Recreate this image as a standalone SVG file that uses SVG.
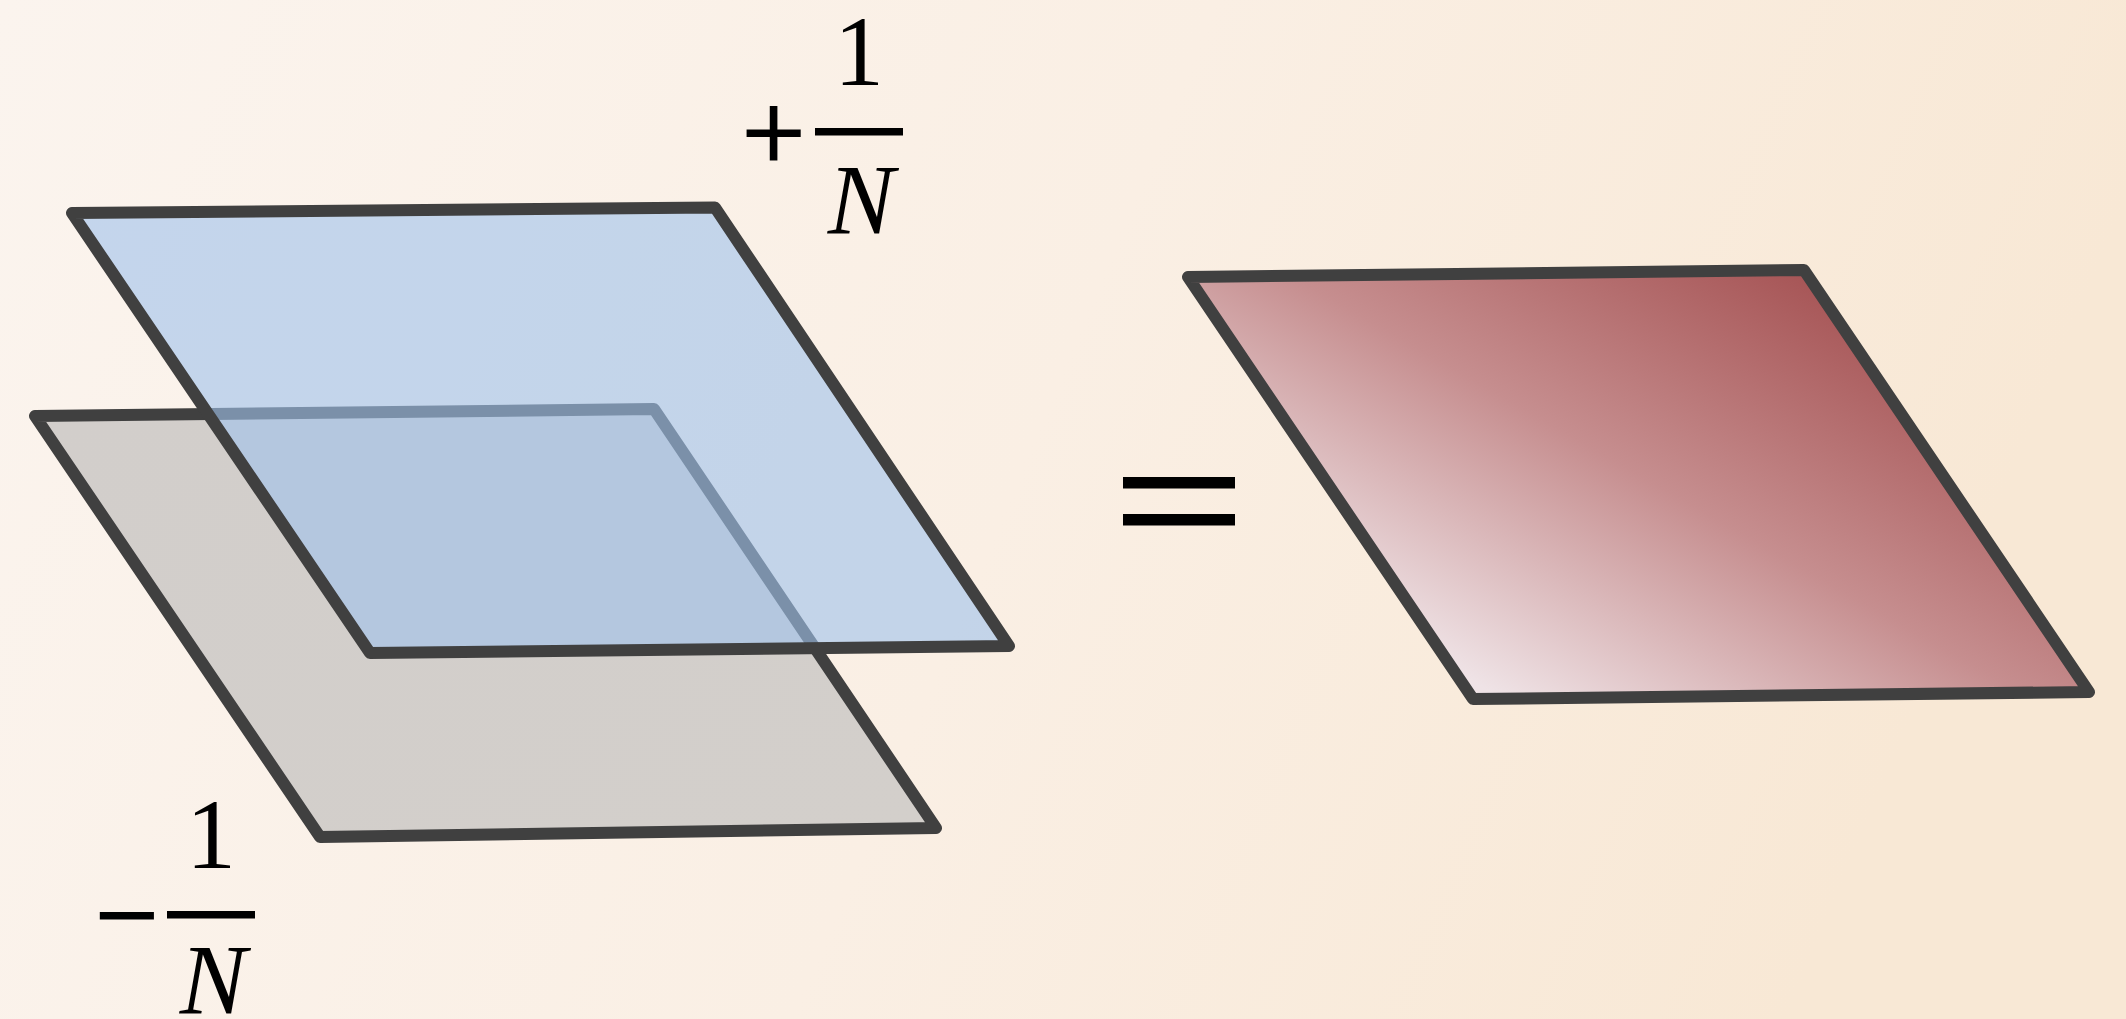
<svg xmlns="http://www.w3.org/2000/svg" width="2126" height="1019" viewBox="0 0 2126 1019">
  <defs>
    <linearGradient id="bg" x1="0" y1="0" x2="1" y2="0.2">
      <stop offset="0" stop-color="#fbf4ee"/>
      <stop offset="0.55" stop-color="#faefe4"/>
      <stop offset="1" stop-color="#f8e8d5"/>
    </linearGradient>
    <linearGradient id="grayFill" x1="0" y1="0" x2="1" y2="1">
      <stop offset="0" stop-color="#d2cecb"/>
      <stop offset="1" stop-color="#d3cfcb"/>
    </linearGradient>
    <linearGradient id="redFill" gradientUnits="userSpaceOnUse" x1="1800" y1="265" x2="1540" y2="720">
      <stop offset="0" stop-color="#a65455"/>
      <stop offset="0.5" stop-color="#c68e8f"/>
      <stop offset="1" stop-color="#efe3e6"/>
    </linearGradient>
    <style>
      .plane { stroke: #404040; stroke-width: 12; stroke-linejoin: round; }
      .math { font-family: "Liberation Serif", "Times New Roman", serif; fill: #000; }
      .sign { font-size: 112px; stroke: #000; stroke-width: 2; }
      .num { font-size: 100px; }
      .var { font-size: 100px; font-style: italic; }
    </style>
  </defs>
  <rect x="0" y="0" width="2126" height="1019" fill="url(#bg)"/>

  <g id="plane-minus">
    <polygon class="plane" fill="url(#grayFill)" points="35,416 654,409 936,828 320,837"/>
  </g>
  <g id="plane-plus">
    <polygon fill="#a0c3ec" fill-opacity="0.61" stroke="none" points="72,213 715,207.5 1009,646 370,653"/>
    <polygon fill="none" class="plane" points="72,213 715,207.5 1009,646 370,653"/>
  </g>
  <g id="plane-result">
    <polygon class="plane" fill="url(#redFill)" points="1188,277 1804,270 2089,692 1473,699"/>
  </g>

  <g id="label-plus">
    <text class="math sign" x="742" y="171">+</text>
    <rect x="815" y="128" width="88" height="7.5" fill="#000"/>
    <text class="math num" x="859" y="85" text-anchor="middle">1</text>
    <text class="math var" x="861" y="233" text-anchor="middle">N</text>
  </g>
  <g id="label-minus">
    <text class="math sign" x="95" y="953">−</text>
    <rect x="167" y="911" width="88" height="7.5" fill="#000"/>
    <text class="math num" x="211" y="868" text-anchor="middle">1</text>
    <text class="math var" x="213" y="1013" text-anchor="middle">N</text>
  </g>
  <g id="equals">
    <rect x="1123" y="477" width="112" height="11.5" fill="#000"/>
    <rect x="1123" y="514" width="112" height="11.5" fill="#000"/>
  </g>
  <g id="connectors"/>
</svg>
